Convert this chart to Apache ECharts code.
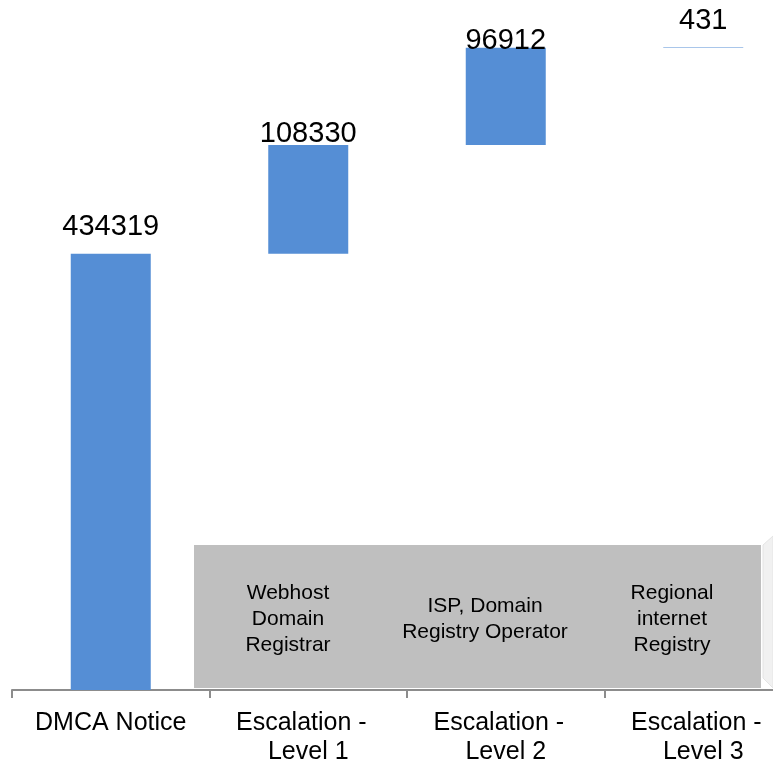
<!DOCTYPE html>
<html>
<head>
<meta charset="utf-8">
<script src="https://cdn.jsdelivr.net/npm/echarts@6/dist/echarts.min.js"></script>
<style>
  html, body { margin: 0; padding: 0; background: #fff; }
  #chart { width: 773px; height: 764px; }
</style>
</head>
<body>
<div id="chart"></div>
<script>
// waterfall steps
const categories = ['DMCA Notice', 'Escalation - Level 1', 'Escalation - Level 2', 'Escalation - Level 3'];
const values = [434319, 108330, 96912, 431];
const boxTexts = ['Webhost\nDomain\nRegistrar', 'ISP, Domain\nRegistry Operator', 'Regional\ninternet\nRegistry'];

// invisible base for each step = running total before it
const bases = [];
let running = 0;
values.forEach((v, i) => {
    bases.push(i === 0 ? 0 : running);
    running += v;
});

const labelGaps = [12, -4, -8, 12];

const chart = echarts.init(document.getElementById('chart'));
const font = 'Liberation Sans, Arial, sans-serif';

chart.setOption({
    animation: false,
    grid: { left: 12, width: 790, top: 0, bottom: 74, outerBoundsMode: 'none', containLabel: false },
    xAxis: {
        type: 'category',
        data: categories,
        axisLine: { lineStyle: { color: '#8c8c8c', width: 2 } },
        axisTick: { show: true, length: 8, lineStyle: { color: '#8c8c8c', width: 2 } },
        axisLabel: {
            interval: 0,
            margin: 19,
            fontSize: 25,
            lineHeight: 29,
            color: '#000',
            fontFamily: font,
            formatter: s => s.replace(' - ', ' -  \n')
        }
    },
    yAxis: { type: 'value', min: 0, max: 687000, show: false },
    series: [
        {
            type: 'bar',
            stack: 'w',
            data: bases,
            itemStyle: { color: 'transparent' },
            silent: true
        },
        {
            type: 'bar',
            stack: 'w',
            barWidth: 80,
            data: values.map((v, i) => ({
                value: v,
                label: { distance: labelGaps[i] }
            })),
            itemStyle: { color: '#558ed5' },
            label: {
                show: true,
                position: 'top',
                color: '#000',
                fontSize: 29,
                fontFamily: font
            }
        }
    ],
    graphic: [
        {
            type: 'rect',
            shape: { x: 194, y: 545, width: 567, height: 143 },
            style: { fill: '#bfbfbf' },
            z: 10
        },
        {
            type: 'polygon',
            shape: { points: [[763, 545], [773, 536], [773, 688], [763, 678]] },
            style: { fill: '#f1f1f1', stroke: '#e4e4e4', lineWidth: 1 },
            z: 10
        },
        {
            type: 'text',
            x: 288, y: 619,
            style: { text: boxTexts[0], fontSize: 21, lineHeight: 26, fontFamily: font, fill: '#000', align: 'center', verticalAlign: 'middle' },
            z: 11
        },
        {
            type: 'text',
            x: 485, y: 619,
            style: { text: boxTexts[1], fontSize: 21, lineHeight: 26, fontFamily: font, fill: '#000', align: 'center', verticalAlign: 'middle' },
            z: 11
        },
        {
            type: 'text',
            x: 672, y: 619,
            style: { text: boxTexts[2], fontSize: 21, lineHeight: 26, fontFamily: font, fill: '#000', align: 'center', verticalAlign: 'middle' },
            z: 11
        }
    ]
});
</script>
</body>
</html>
